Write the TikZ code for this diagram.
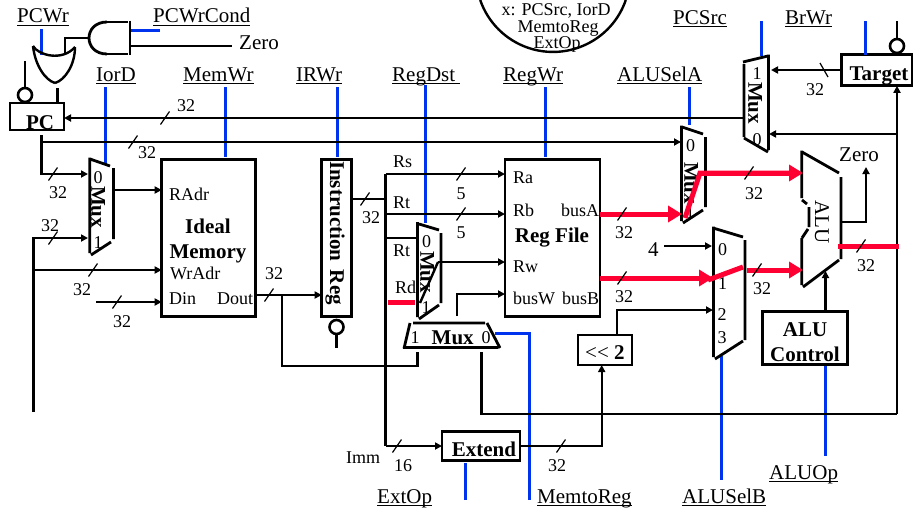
\documentclass[tikz,border=0pt]{standalone}
\usepackage{fontspec}
\setmainfont{Liberation Serif}
\usetikzlibrary{arrows.meta,positioning}
\newcommand{\ctlname}[1]{\setbox0\hbox{#1}\rlap{\rule[-3pt]{\wd0}{1pt}}\box0}

\begin{document}
\begin{tikzpicture}[x=1pt,y=-1pt,
wire/.style={line width=2.4pt},
thinwire/.style={line width=1.8pt},
ctrl/.style={line width=3pt,color=ctrlblue},
redbus/.style={line width=5pt,color=busred},
muxline/.style={line width=2.8pt},
box/.style={draw,line width=2.8pt,inner sep=0pt,outer sep=0pt},
buscut/.style={line width=1.2pt},
tip/.style={-{Triangle[length=7pt,width=7pt]}},
redtip/.style={-{Triangle[length=14pt,width=16pt]}},
ctllabel/.style={font=\fontsize{21}{21}\selectfont,inner sep=0pt,anchor=base west},
inlabel/.style={font=\fontsize{18}{18}\selectfont,inner sep=0pt,anchor=base west},
boldlabel/.style={font=\fontsize{21}{21}\selectfont\bfseries,inner sep=0pt,anchor=base},
bitlabel/.style={font=\fontsize{18}{18}\selectfont,inner sep=0pt},
bubble/.style={circle,draw,line width=2.6pt,minimum size=14pt,inner sep=0pt,outer sep=0pt},
]
\definecolor{ctrlblue}{RGB}{0,51,238}
\definecolor{busred}{RGB}{255,0,51}
\useasboundingbox (0,0) rectangle (913,514);

\draw [line width=2.4pt] (625.8,0) arc [start angle=19,end angle=161,radius=77];
\node [bitlabel,anchor=base] (stx) at (556,16) {x: PCSrc, IorD};
\node [bitlabel,anchor=base] (stm) at (558,32) {MemtoReg};
\node [bitlabel,anchor=base] (ste) at (557,48) {ExtOp};

\node [ctllabel] (lpcwr) at (17,23) {\ctlname{PCWr}};
\node [ctllabel] (lpcwrc) at (153,23) {\ctlname{PCWrCond}};
\node [ctllabel] (lzeroa) at (239,49) {Zero};
\node [ctllabel] (liord) at (96,81) {\ctlname{IorD}};
\node [ctllabel] (lmemwr) at (183,81) {\ctlname{MemWr}};
\node [ctllabel] (lirwr) at (296,81) {\ctlname{IRWr}};
\node [ctllabel] (lregdst) at (392,81) {\ctlname{RegDst\ }};
\node [ctllabel] (lregwr) at (503,81) {\ctlname{RegWr}};
\node [ctllabel] (lalua) at (617,81) {\ctlname{ALUSelA}};
\node [ctllabel] (lpcsrc) at (673,24) {\ctlname{PCSrc}};
\node [ctllabel] (lbrwr) at (785,24) {\ctlname{BrWr}};
\node [ctllabel] (lextop) at (377,503) {\ctlname{ExtOp}};
\node [ctllabel] (lmtr) at (537,503) {\ctlname{MemtoReg}};
\node [ctllabel] (lalub) at (682,503) {\ctlname{ALUSelB}};
\node [ctllabel] (laluop) at (769,479) {\ctlname{ALUOp}};
\node [ctllabel] (lzerob) at (839,161) {Zero};

\node [box,minimum width=54pt,minimum height=27pt] (pcreg) at (37,116.5) {};
\node [box,minimum width=94pt,minimum height=157pt] (mem) at (208.7,238) {};
\node [box,minimum width=30pt,minimum height=157pt] (ireg) at (336.7,238) {};
\node [box,minimum width=95pt,minimum height=157pt] (rfile) at (552.5,238.3) {};
\node [box,minimum width=54pt,minimum height=30pt] (shift) at (605,350) {};
\node [box,minimum width=78pt,minimum height=29pt] (ext) at (481,446.3) {};
\node [box,minimum width=85pt,minimum height=53pt] (aluctl) at (805,338.3) {};
\node [box,minimum width=71pt,minimum height=31pt] (target) at (877.2,70.3) {};

\node [boldlabel] (tpc) at (40,129) {PC};
\node [boldlabel] (tideal) at (208,233) {Ideal};
\node [boldlabel] (tmem) at (208,258) {Memory};
\node [boldlabel] (trf) at (552,242) {Reg File};
\node [boldlabel] (text) at (484,456) {Extend};
\node [boldlabel] (ttar) at (879,80) {Target};
\node [boldlabel] (tac1) at (805,336) {ALU};
\node [boldlabel] (tac2) at (805,361) {Control};
\node [ctllabel] (tsh) at (585,359) {{<}{<} \textbf{2}};
\node [boldlabel,rotate=-90,anchor=center] (tir) at (335,233) {Instruction\hspace{.4em}Reg};

\node [inlabel] (radr) at (169,200) {RAdr};
\node [inlabel] (wradr) at (170,279) {WrAdr};
\node [inlabel] (din) at (169,304) {Din};
\node [inlabel] (dout) at (217,304) {Dout};
\node [inlabel] (rs) at (393,167) {Rs};
\node [inlabel] (rta) at (393,208) {Rt};
\node [inlabel] (rtb) at (393,256) {Rt};
\node [inlabel] (rd) at (395,293) {Rd};
\node [inlabel] (ra) at (513,183) {Ra};
\node [inlabel] (rb) at (513,216) {Rb};
\node [inlabel] (rw) at (513,272) {Rw};
\node [inlabel] (busw) at (513,304) {busW};
\node [inlabel] (busa) at (561,216) {busA};
\node [inlabel] (busb) at (562,304) {busB};
\node [inlabel] (imm) at (346,463) {Imm};
\node [ctllabel] (four) at (648,256) {4};

\foreach \x/\y [count=\i] in {186/106,147/153,58/193,50/226,82/290,122/322,274/274,371/218,
624/233,624/297,754/194,762/289,866/266,815/90,403/466,557/466}
  \node [bitlabel] (width\i) at (\x,\y) {\ifnum\i=15 16\else 32\fi};
\node [bitlabel] (fivea) at (461,194) {5};
\node [bitlabel] (fiveb) at (461,233) {5};

\coordinate (iorda) at (88,174);
\coordinate (iordb) at (88,238);
\coordinate (iordo) at (113,190);
\coordinate (pcout) at (41.5,135);
\coordinate (pcfork) at (41.5,142);
\coordinate (pcfeed) at (744,118);
\coordinate (alusa) at (681,142);
\coordinate (barlo) at (33.5,412);
\coordinate (bartop) at (33.5,238);
\coordinate (barwr) at (33.5,270);
\coordinate (dinin) at (96,302);
\coordinate (doutfork) at (282,295);
\coordinate (regbarb) at (385.5,446);
\coordinate (regbart) at (385.5,174);
\coordinate (muxdsta) at (416,238);
\coordinate (muxdsto) at (438,262);
\coordinate (muxm1) at (417.5,352);
\coordinate (muxm0) at (481.5,352);
\coordinate (muxmo) at (457,316);
\coordinate (loopcor) at (897,414);
\coordinate (targfork) at (897,134);
\coordinate (pcsrc0) at (769,134);
\coordinate (pcsrc1) at (771,70);
\coordinate (fourin) at (664,246);
\coordinate (aluse0) at (712,246);
\coordinate (aluse2) at (713,310);
\coordinate (aluout) at (841,222);
\coordinate (zerotip) at (866,167);
\coordinate (alubot) at (825.5,271);

\draw [ctrl] (41,29) -- (41,55);
\draw [ctrl] (131,30) -- (160,30);
\draw [ctrl] (105.5,87) -- (105.5,165);
\draw [ctrl] (225.5,87) -- (225.5,157);
\draw [ctrl] (337.5,87) -- (337.5,157);
\draw [ctrl] (425.5,85) -- (425.5,223);
\draw [ctrl] (545,87) -- (545,157);
\draw [ctrl] (689,87) -- (689,125);
\draw [ctrl] (761.5,21) -- (761.5,56);
\draw [ctrl] (865.5,21) -- (865.5,55);
\draw [ctrl] (495,333) -- (529,333) -- (529,500);
\draw [ctrl] (465,463) -- (465,500);
\draw [ctrl] (721,356) -- (721,480);
\draw [ctrl] (825.5,366) -- (825.5,456);

\draw [line width=2.8pt] (107,22) -- (128,22) (130,20.6) -- (130,55.4) (128,54) -- (107,54);
\draw [line width=2.8pt] (107,22) .. controls (83,22) and (83,54) .. (107,54);
\draw [line width=2.4pt] (33,46) .. controls (38,55) and (62,62) .. (75,47);
\draw [line width=2.4pt] (33,46) .. controls (35,65) and (45,80) .. (55,83);
\draw [line width=2.4pt] (75,47) .. controls (75,65) and (65,80) .. (55,83);
\draw [wire] (89,38) -- (65,38) -- (65,53);
\draw [wire] (130,46) -- (232,46);
\draw [wire] (57.5,88) -- (57.5,102);
\node [bubble] (pcbub) at (25,95) {};
\draw [wire] (25,61) -- (pcbub);
\node [bubble] (irbub) at (336.5,327) {};
\draw [wire] (irbub) -- (336.5,348);
\node [bubble] (tarbub) at (897,46) {};
\draw [wire] (897,21) -- (tarbub);

\draw [muxline] (90,159) -- (110,166) (89.7,157.6) -- (89.7,253) (113.5,168) -- (113.5,239) (91,255) -- (111,242);
\node [boldlabel,rotate=-90,anchor=center] (muxiord) at (98,207) {Mux};
\node [bitlabel] (mi0) at (98,178) {0};
\node [bitlabel] (mi1) at (98,243) {1};

\draw [muxline] (419,224) -- (439,230) (417.5,222) -- (417.5,317) (441,233) -- (441,303) (419,319) -- (439,305);
\node [boldlabel,rotate=-90,anchor=center] (muxdst) at (427,272) {Mux};
\node [bitlabel] (md0) at (426.5,242) {0};
\node [bitlabel] (md1) at (426,308) {1};
\draw [wire] (420,303) -- (muxdsto);

\draw [muxline] (413,323) -- (485,323) (410,323) -- (404,348.5) (403,347.5) -- (498,347.5) (487,323) -- (500,348);
\node [boldlabel,anchor=center] (muxmem) at (452.7,338) {Mux};
\node [bitlabel] (mm1) at (415,338) {1};
\node [bitlabel] (mm0) at (486,338) {0};

\draw [muxline] (682,127) -- (703,134) (681.5,125.6) -- (681.5,221) (705.5,137) -- (705.5,207) (683,223) -- (703,210);
\node [boldlabel,rotate=-90,anchor=center] (muxa) at (691,183) {Mux};
\node [bitlabel] (ma0) at (690.5,146) {0};
\node [bitlabel] (ma1) at (690,213) {1};

\draw [muxline] (713,228) -- (743,237) (713.5,226.6) -- (713.5,357) (745,240) -- (745,340) (715,359) -- (743,341);
\node [bitlabel] (mb0) at (722.5,250) {0};
\node [bitlabel] (mb1) at (722.5,284) {1};
\node [bitlabel] (mb2) at (722,315) {2};
\node [bitlabel] (mb3) at (722,338) {3};

\draw [muxline] (743,62) -- (768,56) (744,64) -- (744,137) (768.5,54.6) -- (768.5,150) (744,138) -- (768,152);
\node [boldlabel,rotate=-90,anchor=center] (muxpc) at (755,103) {Mux};
\node [bitlabel] (mp1) at (757,74) {1};
\node [bitlabel] (mp0) at (757,140) {0};

\draw [muxline] (801.7,150.6) -- (801.7,198) (802,152) -- (839,173) (841,177) -- (841,259) (839,260) -- (803,287)
  (801.7,238) -- (801.7,285) (802,238) -- (808,229) (809,227) -- (809,207) (807,204) -- (802,200);
\node [font=\fontsize{21}{21}\selectfont,inner sep=0pt,rotate=-90] (alutxt) at (822,222) {ALU};

\draw [wire,tip] (pcfeed) -- (pcreg.east |- pcfeed);
\draw [wire] (pcout) -- (pcfork);
\draw [wire,tip] (pcfork) |- (iorda);
\draw [wire,tip] (pcfork) -- (alusa);
\draw [wire,tip] (barlo) |- (iordb);
\draw [wire,tip] (barwr) -- (mem.west |- barwr);
\draw [wire,tip] (iordo) -- (mem.west |- iordo);
\draw [wire,tip] (dinin) -- (mem.west |- dinin);
\draw [wire,tip] (mem.east |- doutfork) -- (ireg.west |- doutfork);
\draw [wire] (doutfork) |- (muxm1 |- 0,366) -- (muxm1);
\draw [wire] (ireg.east |- 0,199) -- (385.5,199);
\draw [wire] (regbart) -- (regbarb);
\draw [wire,tip] (regbart) -- (rfile.west |- regbart);
\draw [wire,tip] (385.5,214) -- (rfile.west |- 0,214);
\draw [wire] (385.5,238) -- (muxdsta);
\draw [thinwire,tip] (muxdsto) -- (rfile.west |- muxdsto);
\draw [wire,tip] (muxmo) |- (rfile.west |- 0,294);
\draw [wire,tip] (regbarb) -- (ext.west |- regbarb);
\draw [wire,tip] (ext.east |- regbarb) -| (shift.south -| 601.7,0);
\draw [wire,tip] (shift.north -| 617,0) |- (aluse2);
\draw [wire,tip] (fourin) -- (aluse0);
\draw [wire] (muxm0) |- (loopcor);
\draw [wire,tip] (loopcor) -- (target.south -| loopcor);
\draw [wire,tip] (targfork) -- (pcsrc0);
\draw [wire,tip] (target.west |- pcsrc1) -- (pcsrc1);
\draw [wire,tip] (aluout) -| (zerotip);
\draw [wire,tip] (aluctl.north -| alubot) -- (alubot);

\draw [redbus] (388,302) -- (415,302);
\draw [redbus,redtip] (rfile.east |- 0,214) -- (682,214);
\draw [redbus,line join=miter] (685,218) -- (700,173) -- (790,173);
\draw [redbus,redtip] (700,173) -- (803,173);
\draw [redbus,redtip] (rfile.east |- 0,278) -- (713,278);
\draw [redbus] (708,280) -- (743,267);
\draw [redbus,redtip] (747,270) -- (803,270);
\draw [redbus] (838,246) -- (899,246);

\foreach \x/\y in {165/118,133/142,53/174,53/238,93/270,117/302,269/295,365/199,461/174,461/214,
622/214,622/278,749/173,757/270,861/246,397/446,561/446}
  \draw [buscut] (\x,\y) ++(-4.5,6.5) -- ++(9,-13);
\draw [buscut] (820,63) -- (828,77);
\end{tikzpicture}
\end{document}
